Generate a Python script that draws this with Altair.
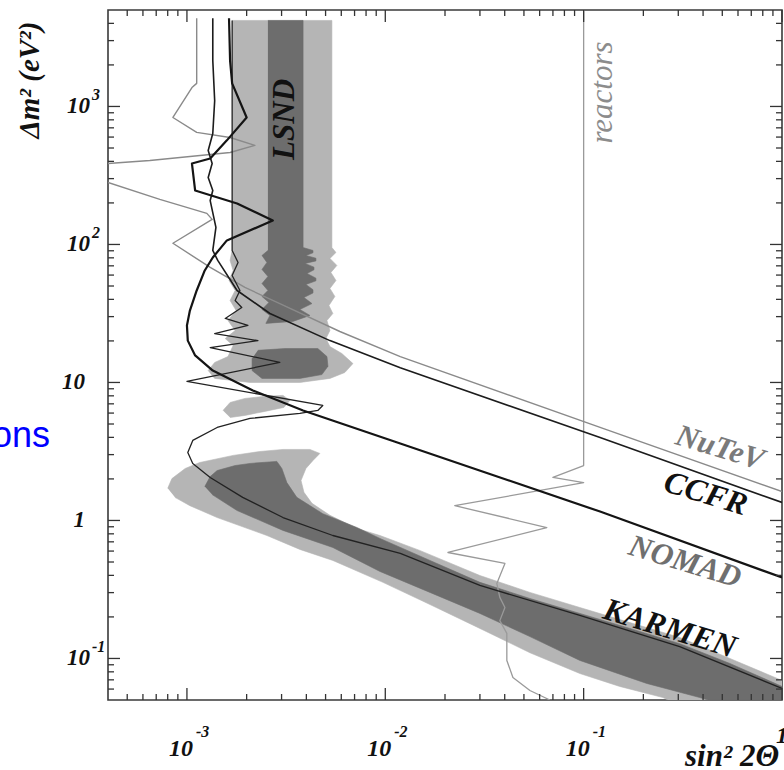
import altair as alt
import pandas as pd

# ---------------- data ----------------
# LSND allowed region, light (90%) parts
lsnd_light_top_x = [1.69e-3, 5.38e-3, 5.38e-3, 5.64e-3, 5.26e-3, 5.70e-3, 5.32e-3, 5.64e-3, 5.26e-3, 5.57e-3,
                    5.20e-3, 5.44e-3, 5.08e-3, 5.26e-3, 5.02e-3, 5.26e-3, 6.04e-3, 6.87e-3, 6.25e-3, 5.26e-3,
                    3.71e-3, 2.08e-3, 1.38e-3, 1.28e-3, 1.38e-3, 1.61e-3, 1.71e-3, 1.56e-3, 1.75e-3, 1.61e-3,
                    1.77e-3, 1.65e-3, 1.75e-3, 1.63e-3, 1.71e-3, 1.65e-3, 1.69e-3]
lsnd_light_top_y = [4200, 4200, 95, 87.5, 79.2, 70.5, 62.7, 54.8, 48.0, 42.0,
                    36.1, 31.6, 28.1, 23.8, 20.8, 18.2, 16.2, 13.7, 11.8, 10.7,
                    10.0, 10.0, 10.7, 12.2, 13.96, 15.4, 18.5, 20.8, 23.8, 28.1,
                    33.2, 39.3, 46.4, 54.8, 64.8, 76.6, 90.5]
lsnd_light_blob_x = [1.52e-3, 1.65e-3, 1.96e-3, 2.47e-3, 3.05e-3, 3.30e-3, 3.08e-3, 2.47e-3, 1.96e-3, 1.65e-3]
lsnd_light_blob_y = [6.27, 7.16, 7.66, 7.93, 8.06, 7.41, 6.59, 6.17, 5.77, 5.57]
lsnd_light_low_x = [8.0e-4, 8.4e-4, 9.8e-4, 1.16e-3, 1.71e-3, 2.33e-3, 3.05e-3, 4.17e-3, 4.68e-3, 4.32e-3,
                    3.98e-3, 3.76e-3, 3.89e-3, 4.27e-3, 5.26e-3, 7.19e-3, 9.4e-3, 1.49e-2, 3.0e-2, 5.36e-2,
                    9.57e-2, 0.171, 0.305, 0.546, 1.0, 1.0, 0.266, 0.251, 0.152, 9.57e-2,
                    5.36e-2, 3.0e-2, 1.68e-2, 9.73e-3, 5.44e-3, 3.71e-3, 2.53e-3, 1.42e-3, 1.035e-3, 8.7e-4]
lsnd_light_low_y = [1.71, 2.01, 2.38, 2.63, 2.96, 3.16, 3.27, 3.27, 3.06, 2.72,
                    2.38, 1.95, 1.60, 1.33, 1.09, 0.875, 0.778, 0.607, 0.399, 0.301,
                    0.234, 0.182, 0.142, 0.100, 0.0693, 0.05, 0.05, 0.0521, 0.0627, 0.0778,
                    0.110, 0.165, 0.246, 0.356, 0.513, 0.617, 0.778, 1.05, 1.28, 1.47]

# LSND allowed region, dark (99%) parts
lsnd_dark_top_x = [2.56e-3, 3.85e-3, 3.85e-3, 4.32e-3, 4.32e-3, 3.98e-3, 4.47e-3, 4.47e-3, 3.94e-3, 4.37e-3,
                   4.37e-3, 4.03e-3, 4.47e-3, 4.47e-3, 3.98e-3, 4.32e-3, 4.32e-3, 3.89e-3, 4.27e-3, 3.71e-3,
                   4.17e-3, 3.42e-3, 2.50e-3, 2.62e-3, 2.39e-3, 2.59e-3, 2.39e-3, 2.56e-3, 2.39e-3, 2.56e-3,
                   2.39e-3, 2.53e-3, 2.39e-3, 2.56e-3]
lsnd_dark_top_y = [4200, 4200, 95, 90.5, 87.0, 83.2, 79.5, 76.0, 72.9, 68.5,
                   65.5, 61.6, 57.0, 54.5, 51.3, 47.0, 44.5, 41.3, 37.3, 33.8,
                   30.6, 27.7, 26.8, 30.6, 33.8, 38.0, 42.0, 46.4, 52.1, 58.6,
                   65.9, 74.1, 83.2, 90.5]
lsnd_dark_blob_x = [2.28e-3, 3.12e-3, 4.57e-3, 5.08e-3, 5.14e-3, 4.79e-3, 3.71e-3, 2.39e-3, 2.13e-3, 2.13e-3]
lsnd_dark_blob_y = [17.1, 17.6, 17.6, 15.4, 13.1, 11.4, 10.7, 10.7, 12.2, 14.9]
lsnd_dark_low_x = [1.23e-3, 1.31e-3, 1.42e-3, 1.75e-3, 2.08e-3, 2.84e-3, 3.01e-3, 3.19e-3, 3.58e-3, 4.84e-3,
                   7.19e-3, 9.4e-3, 1.68e-2, 3.0e-2, 5.36e-2, 9.57e-2, 0.171, 0.305, 0.546, 1.0,
                   1.0, 0.423, 0.385, 0.208, 9.57e-2, 5.36e-2, 3.0e-2, 1.68e-2, 9.4e-3, 5.44e-3,
                   3.05e-3, 1.79e-3, 1.34e-3]
lsnd_dark_low_y = [1.76, 2.08, 2.30, 2.50, 2.59, 2.68, 2.38, 1.88, 1.47, 1.12,
                   0.889, 0.741, 0.513, 0.356, 0.272, 0.212, 0.165, 0.128, 0.092, 0.0627,
                   0.05, 0.05, 0.0521, 0.0659, 0.0968, 0.144, 0.212, 0.301, 0.427, 0.637,
                   0.847, 1.18, 1.54]

# exclusion curves
nutev_a_x = [1.12e-3, 1.12e-3, 1.06e-3, 8.5e-4, 1.12e-3, 1.65e-3, 2.20e-3, 1.65e-3, 6.5e-4, 4.0e-4]
nutev_a_y = [4350, 1470, 1370, 832, 649, 596, 522, 464, 406, 386]
nutev_b_x = [4.0e-4, 7.3e-4, 1.26e-3, 1.34e-3, 8.5e-4, 1.31e-3, 1.96e-3, 2.94e-3, 5.9e-3, 1.19e-2, 0.121, 1.0]
nutev_b_y = [281, 212, 168, 152, 102, 68.2, 48.8, 37.3, 23.4, 15.4, 4.72, 1.62]

ccfr_x = [1.35e-3, 1.35e-3, 1.38e-3, 1.35e-3, 1.28e-3, 1.34e-3, 1.28e-3, 1.35e-3, 1.31e-3, 1.40e-3,
          1.35e-3, 1.43e-3, 1.79e-3, 2.62e-3, 5.26e-3, 1.19e-2, 0.121, 1.0]
ccfr_y = [4350, 2150, 1100, 637, 480, 386, 306, 246, 208, 133,
          90.5, 76.6, 46.4, 31.6, 20.1, 12.8, 3.99, 1.35]

nomad_x = [1.63e-3, 1.65e-3, 1.69e-3, 2.00e-3, 1.59e-3, 1.31e-3, 1.06e-3, 1.10e-3, 1.79e-3, 2.71e-3,
           1.59e-3, 1.35e-3, 1.23e-3, 1.12e-3, 1.035e-3, 1.0e-3, 1.01e-3, 1.10e-3, 1.35e-3, 2.15e-3,
           3.85e-3, 1.19e-2, 0.121, 1.0]
nomad_y = [4350, 2150, 1470, 832, 568, 420, 386, 246, 198, 149,
           107, 80.5, 64.8, 46.4, 33.2, 25.9, 20.1, 15.7, 12.2, 8.75,
           6.27, 3.61, 1.16, 0.386]

karmen_x = [1.69e-3, 1.69e-3, 1.69e-3, 1.69e-3, 1.81e-3, 1.69e-3, 1.85e-3, 1.75e-3, 1.89e-3, 1.56e-3,
            2.03e-3, 1.38e-3, 2.28e-3, 1.31e-3, 2.94e-3, 1.0e-3, 4.84e-3, 4.57e-3, 3.71e-3, 2.08e-3,
            1.42e-3, 1.07e-3, 1.01e-3, 1.07e-3, 1.31e-3, 1.91e-3, 3.05e-3, 5.44e-3, 1.19e-2, 3.0e-2,
            9.57e-2, 0.305, 1.0]
karmen_y = [4200, 790, 208, 90.5, 74.1, 59.6, 46.4, 39.3, 34.9, 29.1,
            25.9, 22.6, 20.1, 17.9, 13.96, 10.2, 6.81, 6.27, 5.96, 5.49,
            4.72, 3.80, 3.11, 2.59, 2.05, 1.47, 1.05, 0.778, 0.577, 0.338,
            0.205, 0.122, 0.0607]

reactors_x = [0.1, 0.1, 7.0e-2, 0.1, 2.24e-2, 6.52e-2, 2.07e-2, 4.01e-2, 3.65e-2, 3.78e-2,
              4.01e-2, 3.78e-2, 4.10e-2, 4.10e-2, 4.40e-2, 5.36e-2, 6.76e-2]
reactors_y = [5000, 2.50, 2.05, 1.88, 1.28, 0.889, 0.586, 0.488, 0.349, 0.277,
              0.234, 0.188, 0.152, 0.0968, 0.0728, 0.0586, 0.05]

# curve / region labels
label_text = ["LSND", "reactors", "NuTeV", "CCFR", "NOMAD", "KARMEN"]
label_x = [3.12e-3, 0.125, 0.486, 0.413, 0.324, 0.272]
label_y = [805, 1262, 3.33, 1.57, 0.497, 0.165]

# axis ticks and labels
x_major = [1e-3, 1e-2, 1e-1, 1.0]
x_minor = [m * 10.0 ** e for e in (-4, -3, -2, -1) for m in range(2, 10) if 4e-4 < m * 10.0 ** e < 1]
y_major = [0.1, 1, 10, 100, 1000]
y_minor = [m * 10.0 ** e for e in (-2, -1, 0, 1, 2, 3) for m in range(2, 10) if 0.05 < m * 10.0 ** e < 5000]
x_lab_val = [1e-3, 1e-2, 1e-1]
x_lab_exp = ["-3", "-2", "-1"]
y_lab_val = [0.1, 1, 10, 100, 1000]
y_lab_base = ["10", "1", "10", "10", "10"]
y_lab_exp = ["-1", "", "", "2", "3"]

# ---------------- chart ----------------
W, H = 674, 690
xs = alt.Scale(type="log", domain=[4e-4, 1], nice=False)
ys = alt.Scale(type="log", domain=[0.05, 5000], nice=False)
SERIF = "Liberation Serif"


def XE(f="x"):
    return alt.X(f"{f}:Q", scale=xs, axis=None)


def YE(f="y"):
    return alt.Y(f"{f}:Q", scale=ys, axis=None)


def frame(parts):
    rows = []
    for pid, (px, py) in enumerate(parts):
        for i, (a, b) in enumerate(zip(px, py)):
            rows.append({"x": a, "y": b, "i": i, "part": pid})
    return pd.DataFrame(rows)


def polygon(parts, color):
    return alt.Chart(frame(parts)).mark_line(fill=color, stroke=color, strokeWidth=0.6, clip=True).encode(
        XE(), YE(), order="i:Q", detail="part:N")


def curve(parts, color, width):
    return alt.Chart(frame(parts)).mark_line(color=color, strokeWidth=width, clip=True,
                                             strokeJoin="round").encode(
        XE(), YE(), order="i:Q", detail="part:N")


LIGHT = "#b5b5b5"
DARK = "#6d6d6d"
layers = [
    polygon([(lsnd_light_top_x, lsnd_light_top_y), (lsnd_light_blob_x, lsnd_light_blob_y),
             (lsnd_light_low_x, lsnd_light_low_y)], LIGHT),
    polygon([(lsnd_dark_top_x, lsnd_dark_top_y), (lsnd_dark_blob_x, lsnd_dark_blob_y),
             (lsnd_dark_low_x, lsnd_dark_low_y)], DARK),
    curve([(reactors_x, reactors_y)], "#9a9a9a", 1.3),
    curve([(nutev_a_x, nutev_a_y), (nutev_b_x, nutev_b_y)], "#8a8a8a", 1.4),
    curve([(karmen_x, karmen_y)], "#222222", 1.3),
    curve([(ccfr_x, ccfr_y)], "#1c1c1c", 1.6),
    curve([(nomad_x, nomad_y)], "#141414", 2.2),
]

# curve labels
lab_df = pd.DataFrame({"x": label_x, "y": label_y, "t": label_text})
lab_style = {
    "LSND": dict(angle=270, color="#111111", fontSize=31, fontWeight="bold"),
    "reactors": dict(angle=270, color="#8c8c8c", fontSize=31, fontWeight="normal"),
    "NuTeV": dict(angle=17, color="#7a7a7a", fontSize=31, fontWeight="bold"),
    "CCFR": dict(angle=17, color="#111111", fontSize=32, fontWeight="bold"),
    "NOMAD": dict(angle=17, color="#6f6f6f", fontSize=31, fontWeight="bold"),
    "KARMEN": dict(angle=17, color="#111111", fontSize=32, fontWeight="bold"),
}
for name, st in lab_style.items():
    layers.append(
        alt.Chart(lab_df[lab_df.t == name]).mark_text(
            font=SERIF, fontStyle="italic", align="center", baseline="middle", **st
        ).encode(XE(), YE(), text="t:N")
    )

# ticks (inward) on all four sides
TICK = "#333333"
for vals, ln in ((x_major, 12), (x_minor, 6)):
    d = pd.DataFrame({"x": vals})
    layers.append(alt.Chart(d).mark_rule(color=TICK, strokeWidth=1.3).encode(
        XE(), y=alt.value(H), y2=alt.value(H - ln)))
    layers.append(alt.Chart(d).mark_rule(color=TICK, strokeWidth=1.3).encode(
        XE(), y=alt.value(0), y2=alt.value(ln)))
for vals, ln in ((y_major, 12), (y_minor, 6)):
    d = pd.DataFrame({"y": vals})
    layers.append(alt.Chart(d).mark_rule(color=TICK, strokeWidth=1.3).encode(
        YE(), x=alt.value(0), x2=alt.value(ln)))
    layers.append(alt.Chart(d).mark_rule(color=TICK, strokeWidth=1.3).encode(
        YE(), x=alt.value(W), x2=alt.value(W - ln)))

# x tick labels
xl = pd.DataFrame({"x": x_lab_val, "b": ["10"] * len(x_lab_val), "e": x_lab_exp})
layers.append(alt.Chart(xl).mark_text(font=SERIF, fontStyle="italic", fontWeight="bold", fontSize=24,
                                      align="right", baseline="alphabetic", dx=6, color="#111").encode(
    XE(), y=alt.value(746), text="b:N"))
layers.append(alt.Chart(xl).mark_text(font=SERIF, fontStyle="italic", fontWeight="bold", fontSize=16,
                                      align="left", baseline="alphabetic", dx=9, color="#111").encode(
    XE(), y=alt.value(727), text="e:N"))
layers.append(alt.Chart(pd.DataFrame({"x": [1.0], "b": ["1"]})).mark_text(
    font=SERIF, fontStyle="italic", fontWeight="bold", fontSize=24, align="center",
    baseline="alphabetic", color="#111").encode(XE(), y=alt.value(733), text="b:N"))

# y tick labels
yl = pd.DataFrame({"y": y_lab_val, "b": y_lab_base, "e": y_lab_exp})
yl_exp = yl[yl.e != ""]
yl_plain = yl[yl.e == ""]
layers.append(alt.Chart(yl_exp).mark_text(font=SERIF, fontStyle="italic", fontWeight="bold", fontSize=23,
                                          align="right", baseline="middle", color="#111").encode(
    YE(), x=alt.value(-18), text="b:N"))
layers.append(alt.Chart(yl_exp).mark_text(font=SERIF, fontStyle="italic", fontWeight="bold", fontSize=16,
                                          align="left", baseline="middle", dy=-11, color="#111").encode(
    YE(), x=alt.value(-16), text="e:N"))
layers.append(alt.Chart(yl_plain).mark_text(font=SERIF, fontStyle="italic", fontWeight="bold", fontSize=23,
                                            align="right", baseline="middle", color="#111").encode(
    YE(), x=alt.value(-23), text="b:N"))

# axis titles
layers.append(alt.Chart(pd.DataFrame({"t": ["Δm² (eV²)"]})).mark_text(
    font=SERIF, fontStyle="italic", fontWeight="bold", fontSize=29, angle=270,
    align="center", baseline="middle", color="#111").encode(
    x=alt.value(-78), y=alt.value(70), text="t:N"))
layers.append(alt.Chart(pd.DataFrame({"t": ["sin² 2Θ"]})).mark_text(
    font=SERIF, fontStyle="italic", fontWeight="bold", fontSize=31,
    align="left", baseline="alphabetic", color="#111").encode(
    x=alt.value(577), y=alt.value(756), text="t:N"))

# stray slide text at the left
layers.append(alt.Chart(pd.DataFrame({"t": ["ons"]})).mark_text(
    font="Liberation Sans", fontSize=36, align="right", baseline="alphabetic", color="#0000ff").encode(
    x=alt.value(-58), y=alt.value(437), text="t:N"))

chart = alt.layer(*layers).properties(
    width=W, height=H,
    padding={"left": 108, "top": 10, "right": 2, "bottom": 70},
    autosize=alt.AutoSizeParams(type="none"),
).configure_view(stroke="#3a3a3a", strokeWidth=1.6)

chart.save("out.html", embed_options={"renderer": "svg", "actions": False})
